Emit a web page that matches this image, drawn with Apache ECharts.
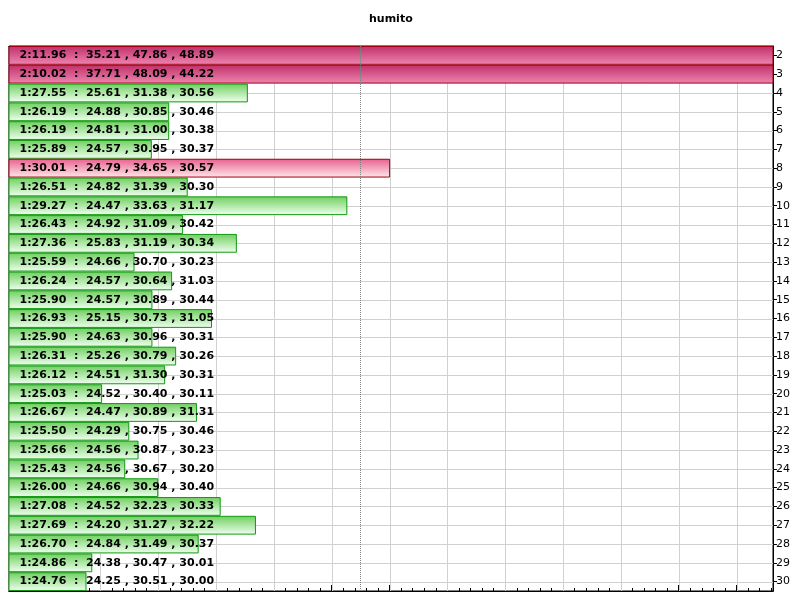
<!DOCTYPE html>
<html><head><meta charset="utf-8">
<script src="https://cdn.jsdelivr.net/npm/echarts@6/dist/echarts.min.js"></script>
<style>html,body{margin:0;padding:0;background:#fff}#c{width:800px;height:601px}</style>
</head><body><div id="c"></div>
<script>
const laps = ['2','3','4','5','6','7','8','9','10','11','12','13','14','15','16','17','18','19','20','21','22','23','24','25','26','27','28','29','30'];
const lapSeconds = [131.96,130.02,87.55,86.19,86.19,85.89,90.01,86.51,89.27,86.43,87.36,85.59,86.24,85.90,86.93,85.90,86.31,86.12,85.03,86.67,85.50,85.66,85.43,86.00,87.08,87.69,86.70,84.86,84.76];
const sector1 = [35.21,37.71,25.61,24.88,24.81,24.57,24.79,24.82,24.47,24.92,25.83,24.66,24.57,24.57,25.15,24.63,25.26,24.51,24.52,24.47,24.29,24.56,24.56,24.66,24.52,24.20,24.84,24.38,24.25];
const sector2 = [47.86,48.09,31.38,30.85,31.00,30.95,34.65,31.39,33.63,31.09,31.19,30.70,30.64,30.89,30.73,30.96,30.79,31.30,30.40,30.89,30.75,30.87,30.67,30.94,32.23,31.27,31.49,30.47,30.51];
const sector3 = [48.89,44.22,30.56,30.46,30.38,30.37,30.57,30.30,31.17,30.42,30.34,30.23,31.03,30.44,31.05,30.31,30.26,30.31,30.11,31.31,30.46,30.23,30.20,30.40,30.33,32.22,30.37,30.01,30.00];
const majorTicks = [84,85,86,87,88,89,90,91,92,93,94,95,96];
const threshold = 89.5;
const axisMin = 83.42, axisMax = 96.63;

const minorTicks = [];
for (let k = Math.ceil(axisMin * 5); k <= Math.floor(axisMax * 5); k++) {
  if (k % 5 !== 0) minorTicks.push(+(k / 5).toFixed(1));
}

function fmtLap(s) {
  const m = Math.floor(s / 60);
  let r = (s - m * 60).toFixed(2);
  if (r.length < 5) r = '0' + r;
  return m + ':' + r;
}
const labels = lapSeconds.map((v, i) =>
  fmtLap(v) + '  :  ' + sector1[i].toFixed(2) + ' , ' + sector2[i].toFixed(2) + ' , ' + sector3[i].toFixed(2));

function grad(c0, c1) {
  return {type: 'linear', x: 0, y: 0, x2: 0, y2: 1, colorStops: [{offset: 0, color: c0}, {offset: 1, color: c1}]};
}
const barData = lapSeconds.map(v => {
  let color, border;
  if (v > axisMax) { color = grad('#c0306a', '#ee86b0'); border = '#a00010'; }
  else if (v >= threshold) { color = grad('#e8608f', '#ffe8ec'); border = '#a00010'; }
  else { color = grad('#6fcf5f', '#f0fff0'); border = '#119911'; }
  return {value: v, itemStyle: {color: color, borderColor: border, borderWidth: 1}};
});

const baseX = {
  type: 'value', min: axisMin, max: axisMax,
  axisLabel: {show: false}, splitLine: {show: false},
  axisLine: {show: true, lineStyle: {color: '#000', width: 1}}
};
const majorTick = {show: true, inside: true, length: 6, customValues: majorTicks, lineStyle: {color: '#000', width: 1}};
const minorTick = {show: true, inside: true, length: 3, customValues: minorTicks, lineStyle: {color: '#000', width: 1}};

const gridLineStyle = {stroke: '#d0d0d0', lineWidth: 1};

const chart = echarts.init(document.getElementById('c'), null, {renderer: 'canvas'});
chart.setOption({
  animation: false,
  backgroundColor: '#fff',
  title: {
    text: 'humito', left: 369, top: 14, padding: 0,
    textStyle: {fontFamily: 'DejaVu Sans', fontWeight: 'bold', fontSize: 11, color: '#000'}
  },
  grid: {left: 9, right: 27, top: 46, bottom: 10, show: true, borderColor: '#000', borderWidth: 1, containLabel: false, outerBoundsMode: 'none'},
  xAxis: [
    Object.assign({}, baseX, {position: 'bottom', axisTick: majorTick}),
    Object.assign({}, baseX, {position: 'bottom', axisTick: minorTick}),
    Object.assign({}, baseX, {position: 'top', axisTick: majorTick}),
    Object.assign({}, baseX, {position: 'top', axisTick: minorTick})
  ],
  yAxis: {
    type: 'category', data: laps, inverse: true, position: 'right',
    axisLine: {show: true, lineStyle: {color: '#000'}},
    axisTick: {show: true, alignWithLabel: true, length: 4, lineStyle: {color: '#000'}},
    axisLabel: {color: '#000', fontSize: 11, fontFamily: 'DejaVu Sans', margin: 3},
    splitLine: {show: false}
  },
  series: [
    {
      type: 'custom', xAxisIndex: 0, yAxisIndex: 0, z: 1, silent: true,
      data: majorTicks.map(v => [v, 0]),
      renderItem: function (params, api) {
        const cs = params.coordSys;
        const x = Math.round(api.coord([api.value(0), 0])[0]) + 0.5;
        return {type: 'line', shape: {x1: x, y1: cs.y, x2: x, y2: cs.y + cs.height}, style: gridLineStyle};
      }
    },
    {
      type: 'custom', xAxisIndex: 0, yAxisIndex: 0, z: 1, silent: true,
      data: laps.map((c, i) => [axisMin, i]),
      renderItem: function (params, api) {
        const cs = params.coordSys;
        const y = Math.round(api.coord([api.value(0), api.value(1)])[1]) + 0.5;
        return {type: 'line', shape: {x1: cs.x, y1: y, x2: cs.x + cs.width, y2: y}, style: gridLineStyle};
      }
    },
    {
      type: 'bar', xAxisIndex: 0, yAxisIndex: 0, barCategoryGap: '0%', data: barData, z: 10,
      label: {
        show: true, position: 'insideLeft', distance: 11, color: '#000',
        fontFamily: 'DejaVu Sans', fontWeight: 'bold', fontSize: 11,
        textBorderWidth: 0,
        formatter: p => labels[p.dataIndex]
      }
    },
    {
      type: 'line', xAxisIndex: 0, yAxisIndex: 0, data: [], z: 20,
      markLine: {
        silent: true, symbol: 'none', z: 20, animation: false,
        label: {show: false},
        lineStyle: {color: '#808080', type: 'dotted', width: 1},
        emphasis: {disabled: true},
        data: [{xAxis: threshold}]
      }
    }
  ]
});
</script>
</body></html>
